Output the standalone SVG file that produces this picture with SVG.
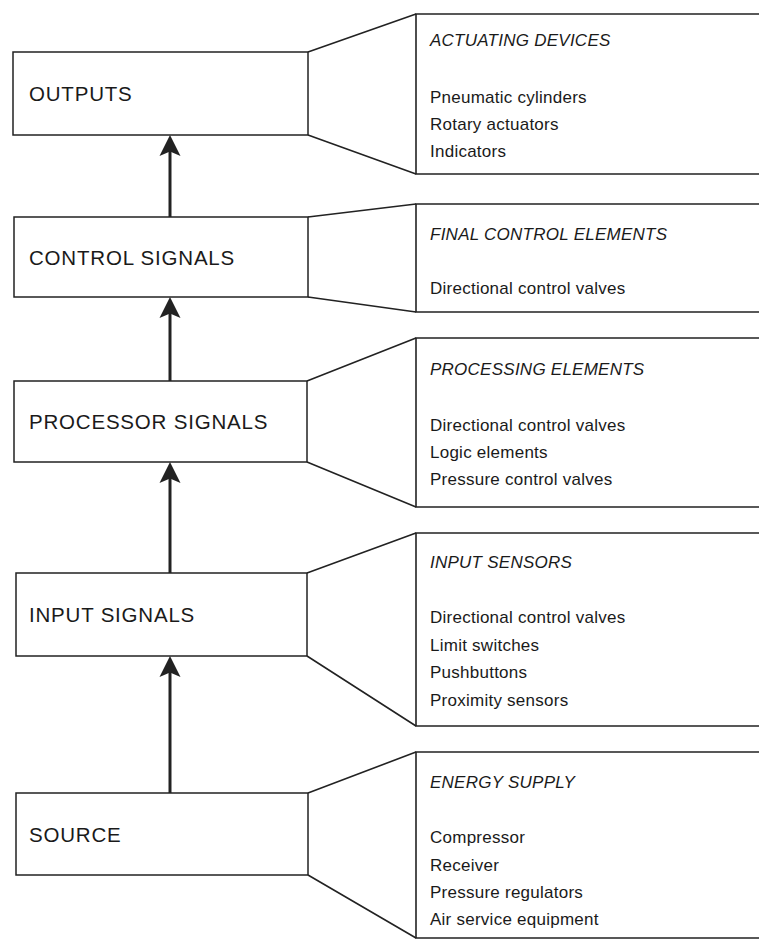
<svg xmlns="http://www.w3.org/2000/svg" width="759" height="940" viewBox="0 0 759 940">
<style>
.box{fill:#fff;stroke:#222;stroke-width:1.5}
.ln{fill:none;stroke:#222;stroke-width:1.6}
.lab{font-family:"Liberation Sans",Arial,sans-serif;font-size:20.5px;letter-spacing:0.8px;fill:#1a1a1a}
.hd{font-family:"Liberation Sans",Arial,sans-serif;font-size:17px;font-style:italic;letter-spacing:0.25px;fill:#1a1a1a}
.it{font-family:"Liberation Sans",Arial,sans-serif;font-size:17px;letter-spacing:0.25px;fill:#1a1a1a}
.arr{fill:none;stroke:#222;stroke-width:3}
.head{fill:#222}
</style>
<rect width="759" height="940" fill="#fff"/>
<g id="outputs">
<rect class="box" x="13" y="52" width="295" height="83"/>
<text class="lab" x="29" y="101">OUTPUTS</text>
<path class="ln" d="M308,52 L416,14 M308,135 L416,174"/>
<path class="ln" d="M759,14 H416 V174 H759"/>
<text class="hd" x="430" y="46">ACTUATING DEVICES</text>
<text class="it" x="430" y="103">Pneumatic cylinders</text>
<text class="it" x="430" y="130">Rotary actuators</text>
<text class="it" x="430" y="157">Indicators</text>
</g>
<g id="control">
<rect class="box" x="14" y="217" width="294" height="80"/>
<text class="lab" x="29" y="265">CONTROL SIGNALS</text>
<path class="ln" d="M308,217 L416,204 M308,297 L416,312"/>
<path class="ln" d="M759,204 H416 V312 H759"/>
<text class="hd" x="430" y="240">FINAL CONTROL ELEMENTS</text>
<text class="it" x="430" y="294">Directional control valves</text>
</g>
<g id="processor">
<rect class="box" x="14" y="381" width="293" height="81"/>
<text class="lab" x="29" y="429">PROCESSOR SIGNALS</text>
<path class="ln" d="M307,381 L416,338 M307,462 L416,507"/>
<path class="ln" d="M759,338 H416 V507 H759"/>
<text class="hd" x="430" y="375">PROCESSING ELEMENTS</text>
<text class="it" x="430" y="431">Directional control valves</text>
<text class="it" x="430" y="458">Logic elements</text>
<text class="it" x="430" y="485">Pressure control valves</text>
</g>
<g id="input">
<rect class="box" x="16" y="573" width="291" height="83"/>
<text class="lab" x="29" y="622">INPUT SIGNALS</text>
<path class="ln" d="M307,573 L416,533 M307,656 L416,726"/>
<path class="ln" d="M759,533 H416 V726 H759"/>
<text class="hd" x="430" y="568">INPUT SENSORS</text>
<text class="it" x="430" y="623">Directional control valves</text>
<text class="it" x="430" y="651">Limit switches</text>
<text class="it" x="430" y="678">Pushbuttons</text>
<text class="it" x="430" y="706">Proximity sensors</text>
</g>
<g id="source">
<rect class="box" x="16" y="793" width="292" height="82"/>
<text class="lab" x="29" y="842">SOURCE</text>
<path class="ln" d="M308,793 L416,752 M308,875 L416,938"/>
<path class="ln" d="M759,752 H416 V938 H759"/>
<text class="hd" x="430" y="788">ENERGY SUPPLY</text>
<text class="it" x="430" y="843">Compressor</text>
<text class="it" x="430" y="871">Receiver</text>
<text class="it" x="430" y="898">Pressure regulators</text>
<text class="it" x="430" y="925">Air service equipment</text>
</g>
<g id="connectors">
<path class="arr" d="M170,217 V150"/>
<path class="head" d="M170,135 L180.5,156 L170,151.5 L159.5,156 Z"/>
<path class="arr" d="M170,381 V312"/>
<path class="head" d="M170,297 L180.5,318 L170,313.5 L159.5,318 Z"/>
<path class="arr" d="M170,573 V477"/>
<path class="head" d="M170,462 L180.5,483 L170,478.5 L159.5,483 Z"/>
<path class="arr" d="M170,793 V671"/>
<path class="head" d="M170,656 L180.5,677 L170,672.5 L159.5,677 Z"/>
</g>
</svg>
